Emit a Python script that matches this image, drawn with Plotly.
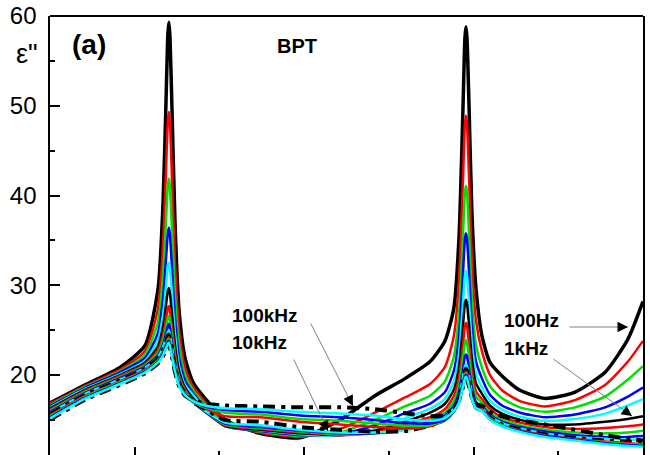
import plotly.graph_objects as go

# x positions (arbitrary temperature-like units, axis has no labels)
x_vals = [0, 20.7, 41.3, 56.1, 63.7, 66.7, 68.5, 69.6, 70.2, 70.8, 72.0, 73.8, 76.1, 79.7, 84.4,
          91.5, 103.3, 123.9, 147.6, 171.2, 191.8, 209.5, 224.3, 233.1, 238.4, 241.4, 243.8, 244.9,
          245.5, 246.1, 247.3, 249.0, 251.4, 255.0, 259.7, 266.8, 277.4, 292.1, 309.9, 327.6, 341.1, 350.0]

freq_labels = ["100Hz", "200Hz", "400Hz", "600Hz", "800Hz", "1kHz", "2kHz", "4kHz", "6kHz", "8kHz",
               "10kHz", "20kHz", "40kHz", "60kHz", "80kHz", "100kHz"]

eps_100Hz = [16.9, 18.9, 20.85, 23.3, 29.5, 39.1, 50.7, 58.1, 59.3, 57.7, 49.6, 36.9, 27.4, 21.9, 19.2, 17.4, 15.0, 13.5, 13.0, 15.0, 17.7, 19.6, 21.5, 23.8, 27.5, 35.3, 50.1, 57.6, 58.8, 57.6, 50.1, 38.2, 29.7, 24.3, 21.4, 19.9, 18.3, 17.4, 18.1, 20.3, 24.0, 28.2]
eps_200Hz = [16.8, 18.8, 20.6, 22.7, 27.4, 34.5, 43.0, 48.4, 49.3, 48.1, 41.9, 32.4, 25.1, 20.8, 18.7, 17.0, 14.6, 13.6, 13.1, 14.0, 15.8, 17.5, 19.0, 20.9, 24.4, 30.6, 42.1, 48.0, 48.9, 48.0, 42.1, 32.8, 26.1, 22.6, 20.0, 18.3, 17.1, 16.5, 17.2, 18.9, 21.5, 23.8]
eps_400Hz = [16.65, 18.68, 20.4, 22.3, 25.9, 31.1, 37.3, 41.2, 41.9, 40.9, 36.2, 28.9, 23.4, 20.0, 18.3, 16.7, 14.4, 13.7, 13.2, 13.6, 15.0, 16.5, 17.7, 19.3, 22.1, 26.9, 35.8, 40.4, 41.1, 40.4, 35.8, 28.6, 23.4, 20.8, 18.75, 17.4, 16.4, 15.9, 16.4, 17.6, 19.5, 21.0]
eps_600Hz = [16.53, 18.57, 20.3, 21.9, 24.7, 28.5, 33.0, 35.9, 36.4, 35.6, 31.9, 26.4, 22.1, 19.4, 18.0, 16.4, 14.3, 13.75, 13.3, 13.4, 14.4, 15.75, 16.8, 18.1, 20.5, 24.3, 31.5, 35.2, 35.8, 35.2, 31.5, 25.7, 21.55, 19.6, 17.8, 16.6, 15.8, 15.3, 15.6, 16.4, 17.6, 18.6]
eps_800Hz = [16.4, 18.46, 20.1, 21.6, 23.9, 26.7, 30.0, 32.2, 32.5, 31.8, 29.0, 24.6, 21.1, 18.9, 17.8, 16.2, 14.3, 13.85, 13.4, 13.3, 14.0, 15.2, 16.25, 17.35, 19.3, 22.4, 28.2, 31.1, 31.6, 31.1, 28.2, 23.5, 20.2, 18.6, 17.15, 16.15, 15.35, 14.9, 15.1, 15.7, 16.6, 17.3]
eps_1kHz = [16.28, 18.35, 20.0, 21.4, 23.2, 25.4, 27.85, 29.4, 29.7, 29.1, 26.8, 23.3, 20.5, 18.6, 17.4, 16.0, 14.3, 13.9, 13.5, 13.3, 13.8, 14.8, 15.8, 16.8, 18.4, 20.9, 25.6, 28.0, 28.4, 28.0, 25.6, 21.8, 19.1, 17.9, 16.6, 15.7, 15.0, 14.5, 14.5, 14.8, 15.1, 15.4]
eps_2kHz = [16.15, 18.24, 19.9, 21.2, 22.8, 24.4, 26.3, 27.5, 27.7, 27.1, 25.2, 22.4, 20.0, 18.4, 17.2, 15.9, 14.4, 14.0, 13.6, 13.3, 13.6, 14.5, 15.3, 16.2, 17.7, 19.7, 23.5, 25.5, 25.8, 25.5, 23.5, 20.45, 18.2, 17.3, 16.2, 15.3, 14.7, 14.2, 14.0, 14.1, 14.3, 14.5]
eps_4kHz = [16.03, 18.13, 19.75, 21.1, 22.5, 23.9, 25.4, 26.4, 26.6, 26.1, 24.4, 21.9, 19.7, 18.2, 17.1, 15.9, 14.5, 14.1, 13.7, 13.4, 13.5, 14.2, 15.0, 15.8, 17.1, 18.8, 22.0, 23.6, 23.9, 23.6, 22.0, 19.4, 17.6, 16.9, 15.8, 15.0, 14.4, 13.9, 13.6, 13.5, 13.6, 13.8]
eps_6kHz = [15.9, 18.02, 19.65, 20.95, 22.2, 23.4, 24.7, 25.5, 25.7, 25.2, 23.7, 21.4, 19.5, 18.1, 17.0, 15.9, 14.6, 14.2, 13.8, 13.5, 13.5, 13.95, 14.8, 15.5, 16.6, 18.1, 20.7, 22.1, 22.3, 22.1, 20.7, 18.6, 17.0, 16.5, 15.55, 14.8, 14.2, 13.7, 13.3, 13.1, 13.1, 13.2]
eps_8kHz = [15.78, 17.91, 19.5, 20.8, 22.0, 23.1, 24.15, 24.8, 25.0, 24.5, 23.1, 21.1, 19.3, 18.0, 17.0, 16.0, 14.7, 14.4, 13.9, 13.6, 13.6, 13.85, 14.55, 15.3, 16.3, 17.55, 19.85, 21.0, 21.2, 21.0, 19.85, 18.0, 16.7, 16.3, 15.4, 14.65, 14.05, 13.5, 13.1, 12.9, 12.8, 12.8]
eps_10kHz = [15.65, 17.8, 19.4, 20.7, 21.9, 22.8, 23.8, 24.4, 24.5, 24.0, 22.8, 20.85, 19.1, 17.95, 17.0, 16.2, 15.0, 14.8, 14.2, 13.9, 13.7, 13.75, 14.35, 15.05, 16.1, 17.3, 19.4, 20.5, 20.7, 20.5, 19.4, 17.7, 16.45, 16.2, 15.3, 14.5, 13.95, 13.4, 13.0, 12.7, 12.6, 12.5]
eps_20kHz = [15.53, 17.69, 19.3, 20.6, 21.7, 22.6, 23.5, 24.05, 24.2, 23.7, 22.5, 20.7, 19.0, 17.9, 17.0, 16.3, 15.4, 15.3, 14.8, 14.5, 14.2, 14.05, 14.3, 14.95, 16.0, 17.1, 19.2, 20.2, 20.4, 20.2, 19.2, 17.5, 16.3, 16.15, 15.2, 14.4, 13.85, 13.3, 12.9, 12.6, 12.4, 12.3]
eps_40kHz = [15.4, 17.58, 19.2, 20.5, 21.6, 22.5, 23.35, 23.9, 24.0, 23.55, 22.4, 20.6, 19.0, 17.85, 17.0, 16.4, 15.8, 15.6, 15.1, 14.9, 14.6, 14.35, 14.4, 14.95, 15.95, 17.0, 19.0, 20.0, 20.2, 20.0, 19.0, 17.4, 16.25, 16.05, 15.15, 14.4, 13.75, 13.2, 12.8, 12.5, 12.3, 12.2]
eps_60kHz = [15.28, 17.47, 19.1, 20.4, 21.5, 22.35, 23.2, 23.7, 23.8, 23.3, 22.2, 20.5, 18.9, 17.8, 17.05, 16.5, 16.1, 15.9, 15.5, 15.3, 15.0, 14.65, 14.6, 15.0, 15.95, 17.0, 18.9, 19.85, 20.0, 19.85, 18.9, 17.35, 16.25, 16.0, 15.05, 14.3, 13.75, 13.2, 12.8, 12.4, 12.2, 12.1]
eps_80kHz = [15.15, 17.36, 19.0, 20.3, 21.4, 22.2, 23.0, 23.5, 23.6, 23.2, 22.1, 20.4, 18.8, 17.75, 17.1, 16.6, 16.3, 16.2, 15.9, 15.7, 15.5, 15.05, 14.9, 15.2, 16.0, 16.95, 18.75, 19.65, 19.8, 19.65, 18.75, 17.3, 16.3, 16.0, 15.0, 14.3, 13.65, 13.1, 12.7, 12.3, 12.1, 12.0]
eps_100kHz = [15.03, 17.25, 18.9, 20.2, 21.3, 22.1, 22.9, 23.4, 23.5, 23.05, 22.0, 20.3, 18.8, 17.7, 17.2, 16.8, 16.6, 16.5, 16.4, 16.4, 16.2, 15.75, 15.4, 15.55, 16.4, 17.2, 18.7, 19.5, 19.6, 19.5, 18.7, 17.5, 16.65, 16.6, 15.9, 15.4, 14.95, 14.5, 13.9, 13.3, 12.9, 12.7]

series = [eps_100Hz, eps_200Hz, eps_400Hz, eps_600Hz, eps_800Hz, eps_1kHz, eps_2kHz, eps_4kHz,
          eps_6kHz, eps_8kHz, eps_10kHz, eps_20kHz, eps_40kHz, eps_60kHz, eps_80kHz, eps_100kHz]

palette = ["#000000", "#ff0000", "#00e000", "#0000ff", "#00ffff"]
X_RANGE = [0, 350]
Y_RANGE = [11.09, 60]

fig = go.Figure()
n_series = len(series)
for i, (name, ys) in enumerate(zip(freq_labels, series)):
    if name in ("10kHz", "100kHz"):
        line = dict(color="#000000", width=4, dash="12px,6px,4px,6px")
    else:
        line = dict(color=palette[i % 5], width=3.5 if i == 0 else 2.5)
    # last two traces sit on overlaying axes that carry the minor / major tick marks
    if i == n_series - 2:
        xa, ya = "x3", "y3"
    elif i == n_series - 1:
        xa, ya = "x2", "y2"
    else:
        xa, ya = "x", "y"
    fig.add_trace(go.Scatter(x=x_vals, y=ys, mode="lines", name=name, xaxis=xa, yaxis=ya,
                             line=dict(shape="spline", smoothing=0.6, **line)))

FONT = "Arial, 'Liberation Sans', sans-serif"

fig.update_layout(
    width=650, height=455,
    margin=dict(l=50, r=7, t=16, b=0),
    plot_bgcolor="white", paper_bgcolor="white",
    showlegend=False,
    font=dict(family=FONT, color="black"),
    xaxis=dict(range=X_RANGE, showline=False, showgrid=False, zeroline=False,
               tickmode="linear", ticks="inside", ticklen=8, tickwidth=1.5, tickcolor="black",
               tick0=50, dtick=100, showticklabels=False),
    yaxis=dict(range=Y_RANGE, showline=True, linewidth=2, linecolor="black", mirror=True,
               showgrid=False, zeroline=False,
               tickmode="linear", ticks="inside", ticklen=10, tickwidth=2, tickcolor="black",
               tick0=0, dtick=10, ticksuffix="\u00a0",
               tickfont=dict(family=FONT, size=24, color="black")),
    # minor ticks
    xaxis2=dict(range=X_RANGE, overlaying="x", anchor="y", side="bottom",
                showline=False, showgrid=False, zeroline=False,
                tickmode="linear", ticks="inside", ticklen=4, tickwidth=1.5, tickcolor="black",
                tick0=0, dtick=50, showticklabels=False),
    yaxis2=dict(range=Y_RANGE, overlaying="y", anchor="x", side="left",
                showline=False, showgrid=False, zeroline=False,
                tickmode="linear", ticks="inside", ticklen=5, tickwidth=2, tickcolor="black",
                tick0=0, dtick=5, showticklabels=False),
    # major ticks (duplicate, unlabeled)
    xaxis3=dict(range=X_RANGE, overlaying="x", anchor="y", side="bottom",
                showline=False, showgrid=False, zeroline=False,
                tickmode="linear", ticks="inside", ticklen=8, tickwidth=1.5, tickcolor="black",
                tick0=50, dtick=100, showticklabels=False),
    yaxis3=dict(range=Y_RANGE, overlaying="y", anchor="x", side="left",
                showline=False, showgrid=False, zeroline=False,
                tickmode="linear", ticks="inside", ticklen=10, tickwidth=2, tickcolor="black",
                tick0=0, dtick=10, showticklabels=False),
)

fig.add_shape(type="line", xref="paper", yref="paper", x0=0, x1=1, y0=1, y1=1,
              line=dict(color="black", width=2))

def ann(text, xp, yp, size, bold=True, xanchor="left"):
    fig.add_annotation(text=f"<b>{text}</b>" if bold else text, xref="paper", yref="paper",
                       x=xp, y=yp, xanchor=xanchor, yanchor="middle", showarrow=False,
                       font=dict(family=FONT, size=size, color="black"))

ann("(a)", 0.0337, 0.934, 28)
ann("BPT", 0.4165, 0.932, 20, xanchor="center")
ann("ε\"", -0.0388, 0.913, 27, bold=False, xanchor="center")
ann("100kHz", 0.3035, 0.318, 19)
ann("10kHz", 0.3035, 0.257, 19)
ann("100Hz", 0.7622, 0.306, 19)
ann("1kHz", 0.7622, 0.2415, 19)

# arrows: (head x, head y) in data units, tail offset in pixels
arrows = [(178.8, 16.55, -43, -84), (164.1, 13.76, -35, -73),
          (341.1, 25.35, -60, 0), (343.5, 15.43, -80, -58)]
for hx, hy, ax, ay in arrows:
    fig.add_annotation(x=hx, y=hy, ax=ax, ay=ay, text="", showarrow=True,
                       arrowhead=0, arrowwidth=1, arrowcolor="#808080")
    n = (ax ** 2 + ay ** 2) ** 0.5
    fig.add_annotation(x=hx, y=hy, ax=ax / n * 9, ay=ay / n * 9, text="", showarrow=True,
                       arrowhead=2, arrowsize=1.6, arrowwidth=1.3, arrowcolor="black")

fig.write_html("out.html", config={"displayModeBar": False},
               post_script="document.body.style.margin='0px';")
